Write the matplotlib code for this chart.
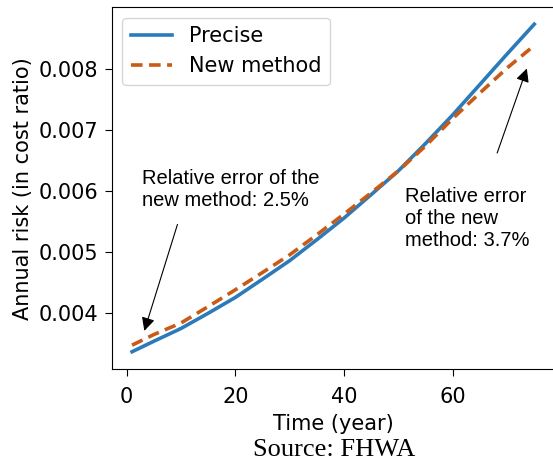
import matplotlib
matplotlib.use("Agg")
import matplotlib.pyplot as plt


# Data

years = [1, 5, 10, 15, 20, 25, 30, 35, 40, 45, 50, 55, 60, 65, 70, 75]

precise = [
0.003358, 0.00353, 0.00374, 0.00399, 0.00425, 0.00455, 0.004855, 0.00520,
0.005554, 0.00594, 0.00633, 0.00678, 0.00725, 0.00775, 0.00825, 0.00874
]

new_method = [
0.003466, 0.00364, 0.00383, 0.00410, 0.004376, 0.00466, 0.00495, 0.00528,
0.00562, 0.00597, 0.00633, 0.00674, 0.00719, 0.00761, 0.00802, 0.00839
]

x_ticks = [0, 20, 40, 60]
y_ticks = [0.004, 0.005, 0.006, 0.007, 0.008]


# Plot graph

fig = plt.figure(figsize=(5.53, 4.66), dpi=100)

ax = fig.add_axes([0.2025, 0.2075, 0.80, 0.7768])

ax.plot(
years,
precise,
color="#2b7bba",
linewidth=2.6,
label="Precise"
)

ax.plot(
years,
new_method,
color="#c95b17",
linewidth=2.6,
dashes=(3.2, 1.8),
label="New method"
)

ax.set_xlim(-2.7, 78.7)
ax.set_ylim(0.003069, 0.009017)

ax.set_xticks(x_ticks)
ax.set_yticks(y_ticks)

ax.tick_params(labelsize=15, length=5, pad=5)
ax.tick_params(axis="x", pad=8)

ax.set_xlabel("Time (year)", fontsize=15, labelpad=5)
ax.set_ylabel("Annual risk (in cost ratio)", fontsize=15, labelpad=4)

ax.legend(loc="upper left", fontsize=15)


# Annotations

ax.text(
2.75, 0.006016,
"Relative error of the\nnew method: 2.5%",
family="Liberation Sans",
fontsize=14.5,
va="center",
ha="left"
)

ax.annotate(
"",
xy=(3.1, 0.003657),
xytext=(9.5, 0.005493),
arrowprops=dict(arrowstyle="-|>", color="black", lw=0.8, mutation_scale=20)
)

ax.text(
51.3, 0.005542,
"Relative error\nof the new\nmethod: 3.7%",
family="Liberation Sans",
fontsize=14.5,
va="center",
ha="left"
)

ax.annotate(
"",
xy=(73.8, 0.008054),
xytext=(68.0, 0.00658),
arrowprops=dict(arrowstyle="-|>", color="black", lw=0.8, mutation_scale=20)
)

fig.text(
0.604, 1 - 450 / 466,
"Source: FHWA",
family="Liberation Serif",
fontsize=19,
ha="center",
va="center"
)

fig.savefig("out.png", dpi=100)
